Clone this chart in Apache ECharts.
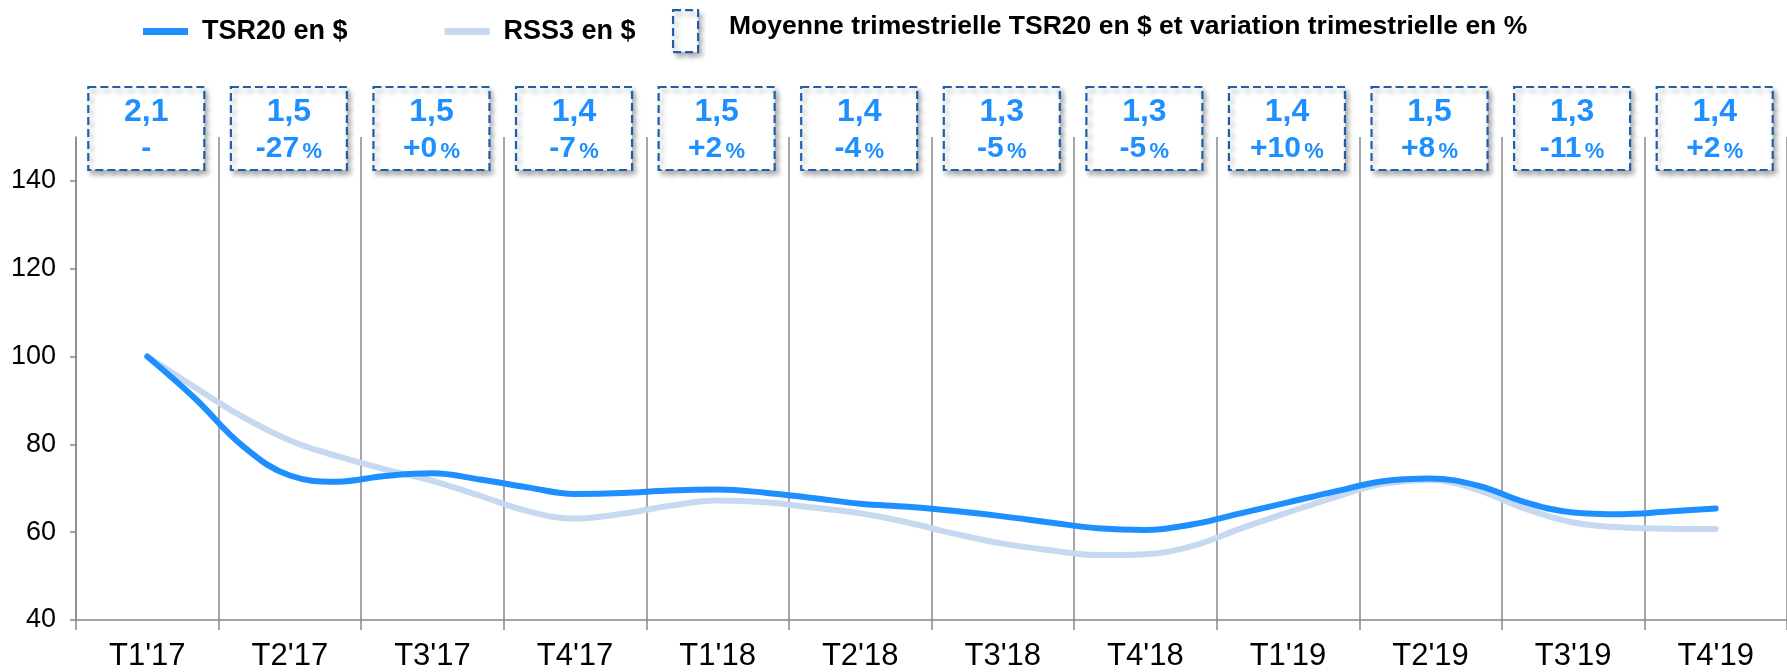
<!DOCTYPE html>
<html>
<head>
<meta charset="utf-8">
<script src="https://cdn.jsdelivr.net/npm/echarts@6/dist/echarts.min.js"></script>
<style>
  html, body { margin: 0; padding: 0; background: #fff; }
  #chart { width: 1787px; height: 672px; }
</style>
</head>
<body>
<div id="chart"></div>
<script>
// Quarter categories shown on the x axis
const quarters = ["T1'17", "T2'17", "T3'17", "T4'17", "T1'18", "T2'18", "T3'18", "T4'18", "T1'19", "T2'19", "T3'19", "T4'19"];

// Monthly positions (hidden axis) used to draw the two index curves
const months = [
  'janv. 17', 'févr. 17', 'mars 17', 'avr. 17', 'mai 17', 'juin 17', 'juil. 17', 'août 17', 'sept. 17', 'oct. 17', 'nov. 17', 'déc. 17',
  'janv. 18', 'févr. 18', 'mars 18', 'avr. 18', 'mai 18', 'juin 18', 'juil. 18', 'août 18', 'sept. 18', 'oct. 18', 'nov. 18', 'déc. 18',
  'janv. 19', 'févr. 19', 'mars 19', 'avr. 19', 'mai 19', 'juin 19', 'juil. 19', 'août 19', 'sept. 19', 'oct. 19', 'nov. 19', 'déc. 19'
];

// Index values (base 100), monthly
const tsr20 = [null, 100, 90.5, 79.7, 72.9, 71.5, 72.8, 73.4, 72.0, 70.2, 68.7, 68.9, 69.5, 69.7, 69.0, 67.8, 66.5, 65.8, 64.8,
  63.6, 62.2, 60.9, 60.5, 61.8, 64.3, 66.8, 69.3, 71.6, 72.2, 70.6, 66.8, 64.5, 64.1, 64.7, 65.4, null];
const rss3 = [null, 100, 93.0, 86.3, 80.9, 77.3, 74.3, 71.7, 68.3, 64.8, 63.1, 64.2, 66.0, 67.2, 66.8, 65.6, 64.3, 62.2, 59.6,
  57.4, 55.9, 54.8, 55.0, 56.9, 60.8, 64.5, 68.0, 71.0, 71.9, 69.6, 65.3, 62.2, 61.1, 60.8, 60.7, null];

// Quarterly average of TSR20 in $ and quarter-on-quarter change in %
const quarterMeans = [2.1, 1.5, 1.5, 1.4, 1.5, 1.4, 1.3, 1.3, 1.4, 1.5, 1.3, 1.4];
const quarterChanges = [null, -27, 0, -7, 2, -4, -5, -5, 10, 8, -11, 2];

const yTicks = [40, 60, 80, 100, 120, 140];

const FONT = "'Liberation Sans', Arial, sans-serif";
const BLUE = '#1e8fff';
const LIGHT = '#c6d9f1';
const BOX_BORDER = '#1f5fa8';
const GRID_GRAY = '#888888';
const BOX_DASH = [8, 4];

const chart = echarts.init(document.getElementById('chart'), null, { renderer: 'canvas' });

function fmtMean(v) {
  return v.toFixed(1).replace('.', ',');
}

function fmtChange(c) {
  if (c === null) return '{v|-}';
  return '{v|' + (c >= 0 ? '+' : '') + c + '} {p|%}';
}

const boxStyle = {
  fill: '#fff', stroke: BOX_BORDER, lineWidth: 2.2, lineDash: BOX_DASH,
  shadowBlur: 5, shadowOffsetX: 3, shadowOffsetY: 4, shadowColor: 'rgba(0,0,0,0.32)'
};

const option = {
  animation: false,
  backgroundColor: '#fff',
  textStyle: { fontFamily: FONT },
  legend: {
    left: 138,
    top: 13,
    icon: 'rect',
    itemWidth: 45,
    itemHeight: 7,
    itemGap: 97,
    textStyle: { fontFamily: FONT, fontSize: 27, fontWeight: 'bold', color: '#000', padding: [0, 0, 0, 9] },
    data: ['TSR20 en $', 'RSS3 en $']
  },
  graphic: [
    {
      type: 'rect',
      left: 672, top: 9,
      shape: { width: 25, height: 42 },
      style: boxStyle
    },
    {
      type: 'text',
      left: 729, top: 13,
      style: {
        text: 'Moyenne trimestrielle TSR20 en $ et variation trimestrielle en %',
        font: 'bold 26.5px ' + FONT, fill: '#000'
      }
    }
  ],
  grid: { left: 76, right: -10, top: 137, bottom: 50, containLabel: false },
  xAxis: [
    {
      type: 'category',
      data: quarters,
      boundaryGap: true,
      axisLine: { show: true, lineStyle: { color: GRID_GRAY, width: 1.5 } },
      axisTick: { show: true, length: 10, lineStyle: { color: GRID_GRAY, width: 1.5 } },
      axisLabel: { fontFamily: FONT, fontSize: 31, color: '#000', margin: 21 },
      splitLine: { show: true, lineStyle: { color: GRID_GRAY, width: 1.5 } }
    },
    {
      type: 'category',
      data: months,
      boundaryGap: true,
      show: false
    }
  ],
  yAxis: {
    type: 'value',
    min: 40,
    max: 150,
    interval: 20,
    axisLine: { show: true, lineStyle: { color: GRID_GRAY, width: 1.5 } },
    axisTick: { show: true, length: 6, customValues: yTicks, lineStyle: { color: GRID_GRAY, width: 1.5 } },
    axisLabel: { fontFamily: FONT, fontSize: 27, color: '#000', margin: 20, customValues: yTicks },
    splitLine: { show: false }
  },
  series: [
    {
      name: 'RSS3 en $',
      type: 'line',
      xAxisIndex: 1,
      data: rss3,
      smooth: 0.4,
      showSymbol: false,
      color: LIGHT,
      lineStyle: { width: 6, color: LIGHT, cap: 'round' },
      z: 3
    },
    {
      name: 'TSR20 en $',
      type: 'line',
      xAxisIndex: 1,
      data: tsr20,
      smooth: 0.4,
      showSymbol: false,
      color: BLUE,
      lineStyle: { width: 6, color: BLUE, cap: 'round' },
      z: 4
    },
    {
      name: 'Moyenne trimestrielle',
      type: 'custom',
      xAxisIndex: 0,
      clip: false,
      data: quarters.map((q, i) => [i, quarterMeans[i]]),
      renderItem: function (params, api) {
        const i = params.dataIndex;
        const cx = api.coord([api.value(0), 150])[0];
        return {
          type: 'group',
          children: [
            {
              type: 'rect',
              shape: { x: cx - 59, y: 87, width: 116, height: 83 },
              style: boxStyle
            },
            {
              type: 'text',
              x: cx - 1, y: 112,
              style: {
                text: fmtMean(quarterMeans[i]),
                font: 'bold 32px ' + FONT, fill: BLUE,
                align: 'center', verticalAlign: 'middle'
              }
            },
            {
              type: 'text',
              x: cx - 1, y: 149,
              style: {
                text: fmtChange(quarterChanges[i]),
                align: 'center', verticalAlign: 'middle',
                rich: {
                  v: { font: 'bold 30px ' + FONT, fill: BLUE },
                  p: { font: 'bold 22px ' + FONT, fill: BLUE, padding: [5, 0, 0, 0] }
                }
              }
            }
          ]
        };
      },
      z: 10
    }
  ]
};

chart.setOption(option);
</script>
</body>
</html>
